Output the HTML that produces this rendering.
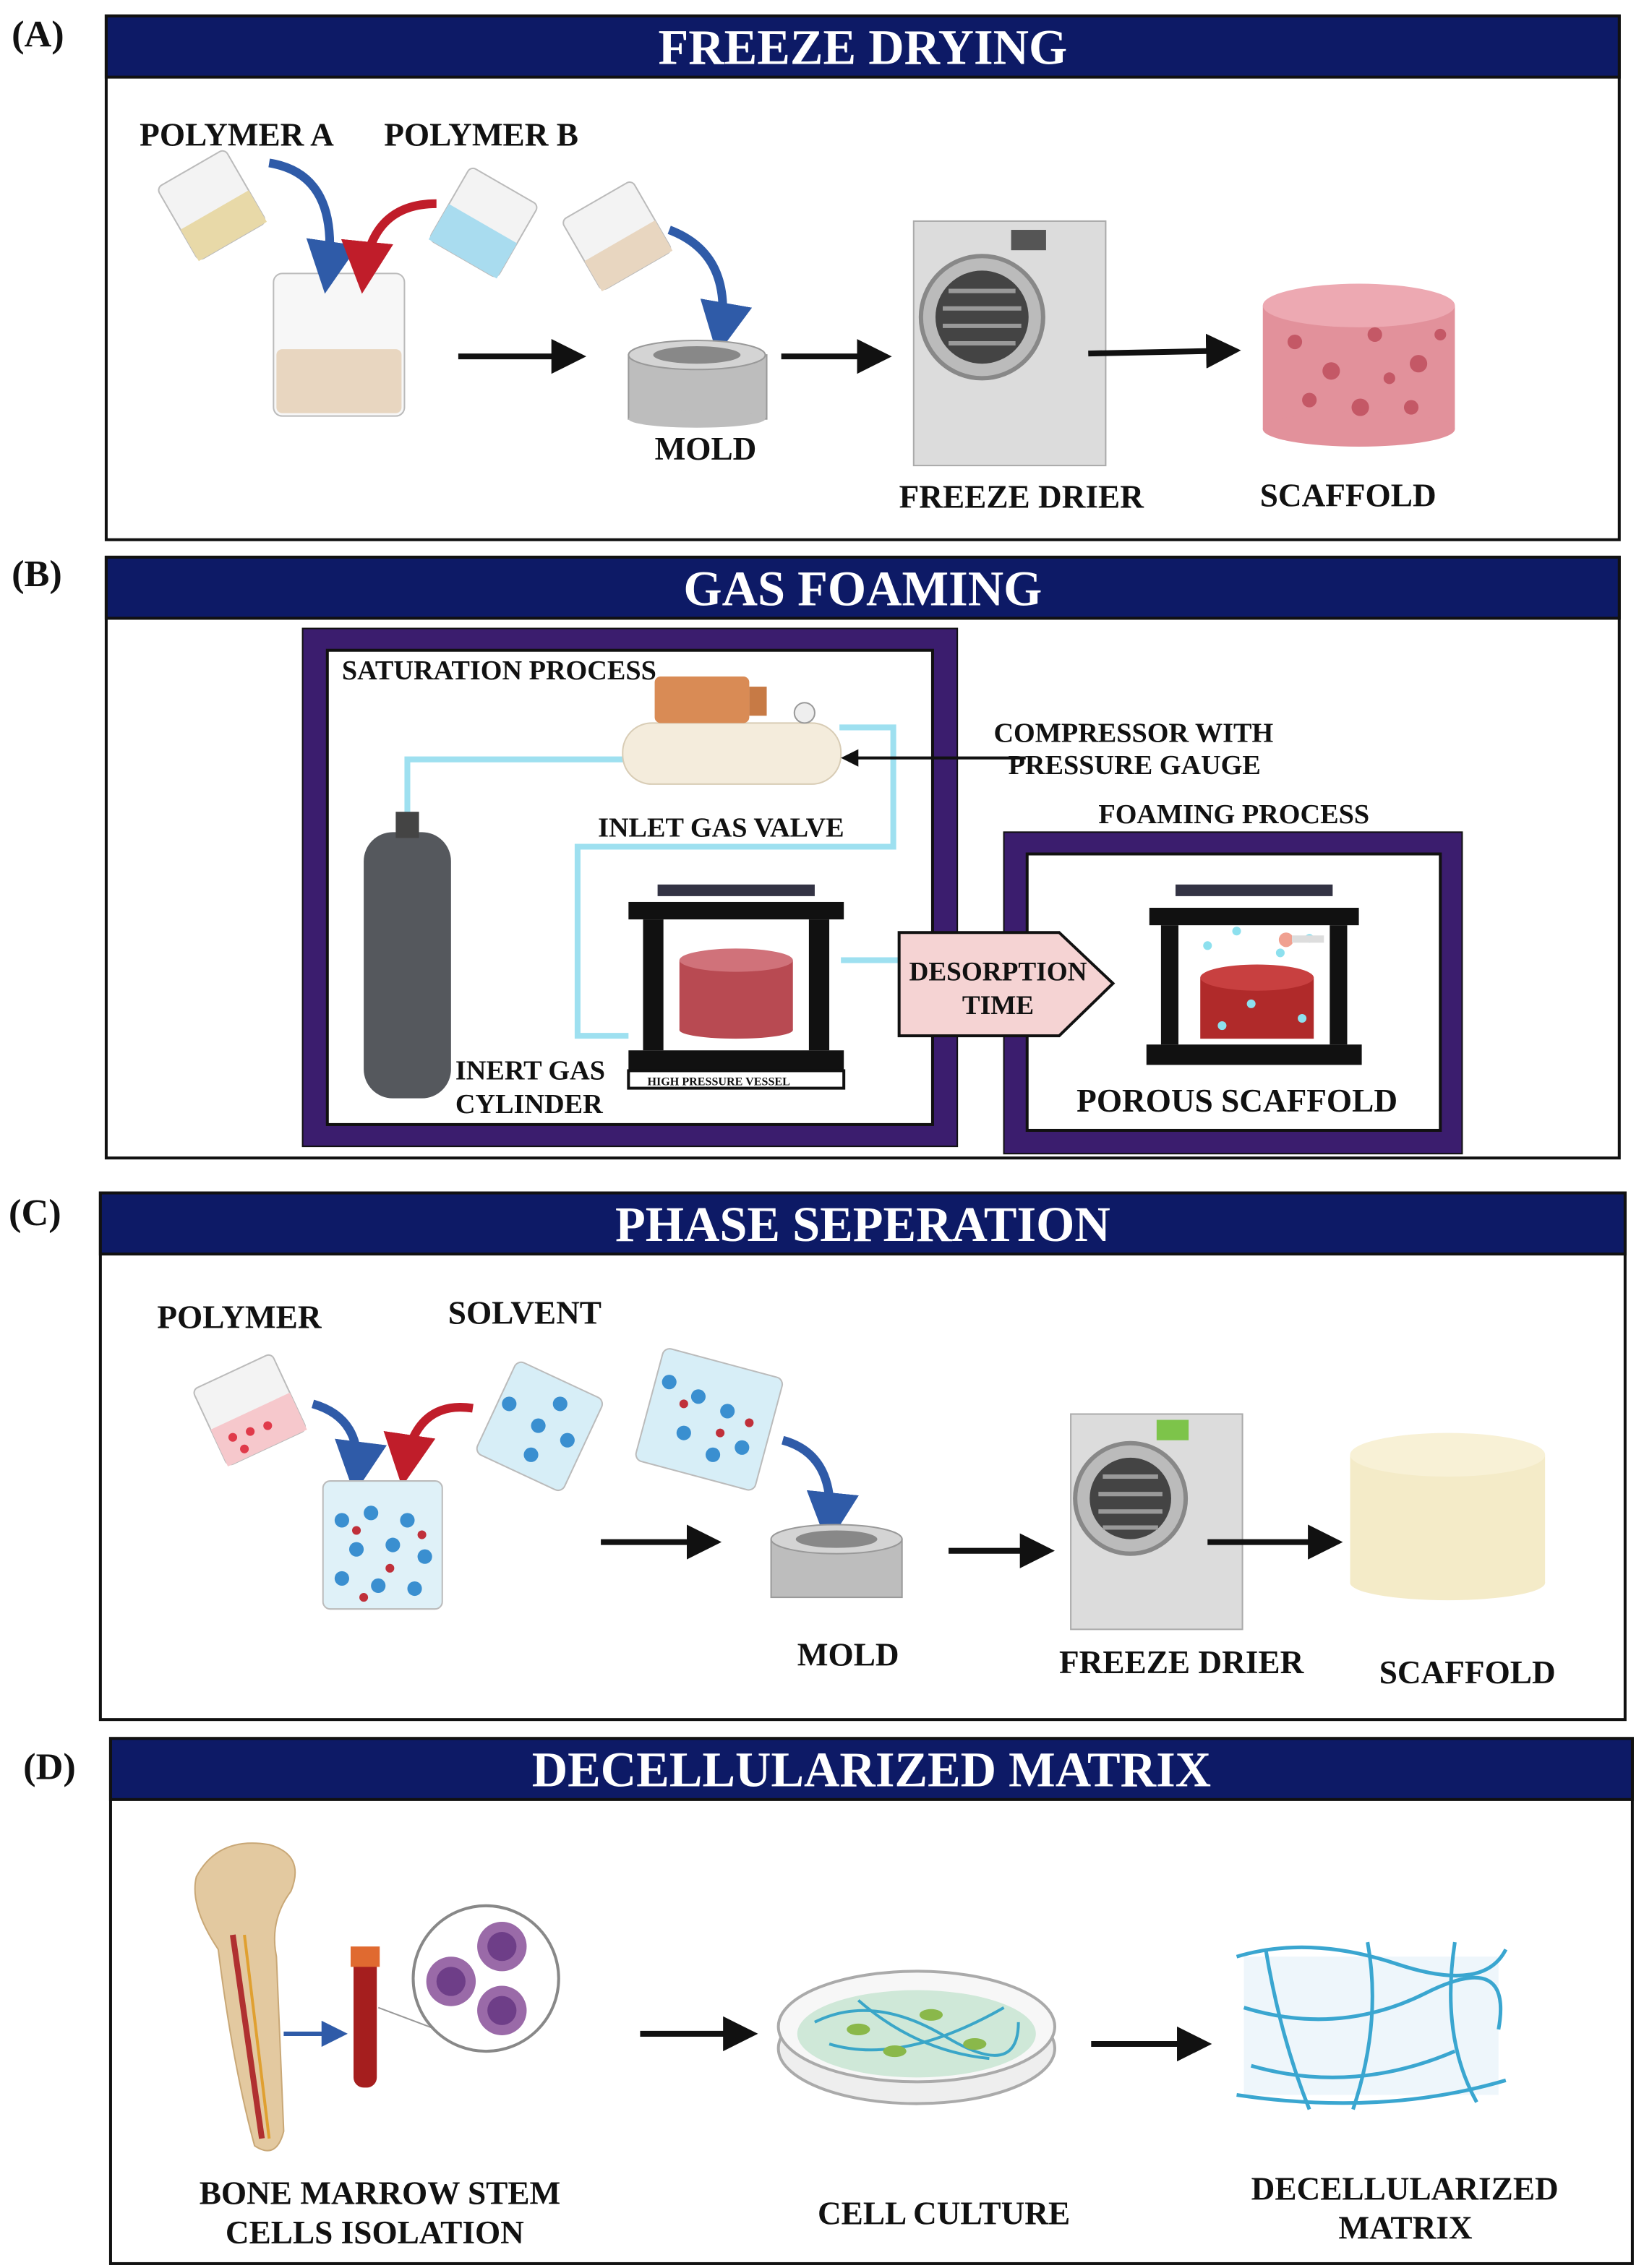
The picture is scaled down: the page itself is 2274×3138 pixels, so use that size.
<!DOCTYPE html>
<html><head><meta charset="utf-8"><style>
html,body{margin:0;padding:0;background:#fff;}
svg{display:block;}
text{font-family:"Liberation Serif",serif;font-weight:bold;fill:#111;}
.h{fill:#fff;font-size:34px;}
</style></head><body>
<svg width="2274" height="3138" viewBox="0 0 1130 1559" preserveAspectRatio="none" xmlns="http://www.w3.org/2000/svg">
<defs>
<marker id="ah" markerWidth="6" markerHeight="6" refX="4" refY="3" orient="auto"><path d="M0,0 L6,3 L0,6 z" fill="#111"/></marker>
<marker id="ab" markerWidth="6" markerHeight="6" refX="4" refY="3" orient="auto"><path d="M0,0 L6,3 L0,6 z" fill="#2f5ba8"/></marker>
<marker id="ar" markerWidth="6" markerHeight="6" refX="4" refY="3" orient="auto"><path d="M0,0 L6,3 L0,6 z" fill="#c01d2a"/></marker>
</defs>

<!-- PANEL A -->
<text x="8" y="32" font-size="26">(A)</text>
<rect x="73" y="11" width="1040" height="360" fill="none" stroke="#111" stroke-width="2"/>
<rect x="73" y="11" width="1040" height="42" fill="#0d1a66" stroke="#111" stroke-width="2"/>
<text class="h" x="593" y="44" text-anchor="middle">FREEZE DRYING</text>
<text x="96" y="100" font-size="22.5">POLYMER A</text>
<text x="264" y="100" font-size="22.5">POLYMER B</text>
<g transform="rotate(-30 145 140)"><rect x="118" y="112" width="54" height="58" rx="4" fill="#f3f3f3" stroke="#bbb"/><rect x="118" y="145" width="54" height="25" fill="#e8d9a8"/></g>
<g transform="rotate(30 333 152)"><rect x="306" y="124" width="54" height="58" rx="4" fill="#f3f3f3" stroke="#bbb"/><rect x="306" y="154" width="54" height="28" fill="#a9dcef"/></g>
<rect x="188" y="188" width="90" height="98" rx="6" fill="#f7f7f7" stroke="#bbb"/>
<rect x="190" y="240" width="86" height="44" rx="4" fill="#e8d6c0"/>
<path d="M185,112 Q235,120 225,190" fill="none" stroke="#2f5ba8" stroke-width="6" marker-end="url(#ab)"/>
<path d="M300,140 Q255,140 250,190" fill="none" stroke="#c01d2a" stroke-width="6" marker-end="url(#ar)"/>
<line x1="315" y1="245" x2="395" y2="245" stroke="#111" stroke-width="4" marker-end="url(#ah)"/>
<g transform="rotate(-30 424 162)"><rect x="396" y="134" width="56" height="56" rx="4" fill="#f3f3f3" stroke="#bbb"/><rect x="396" y="166" width="56" height="24" fill="#e8d6c0"/></g>
<path d="M460,158 Q505,175 495,232" fill="none" stroke="#2f5ba8" stroke-width="6" marker-end="url(#ab)"/>
<rect x="432" y="244" width="95" height="44" fill="#bdbdbd" stroke="#999"/>
<ellipse cx="479" cy="288" rx="47" ry="6" fill="#bdbdbd"/>
<ellipse cx="479" cy="244" rx="47" ry="10" fill="#d4d4d4" stroke="#999"/>
<ellipse cx="479" cy="244" rx="30" ry="6" fill="#888"/>
<text x="450" y="316" font-size="22.5">MOLD</text>
<line x1="537" y1="245" x2="605" y2="245" stroke="#111" stroke-width="4" marker-end="url(#ah)"/>
<rect x="628" y="152" width="132" height="168" fill="#dcdcdc" stroke="#aaa"/>
<rect x="695" y="158" width="24" height="14" fill="#555"/>
<circle cx="675" cy="218" r="42" fill="#bbb" stroke="#888" stroke-width="3"/>
<circle cx="675" cy="218" r="32" fill="#444"/>
<g stroke="#999" stroke-width="3"><line x1="652" y1="200" x2="698" y2="200"/><line x1="648" y1="212" x2="702" y2="212"/><line x1="648" y1="224" x2="702" y2="224"/><line x1="652" y1="236" x2="698" y2="236"/></g>
<line x1="748" y1="243" x2="845" y2="241" stroke="#111" stroke-width="4" marker-end="url(#ah)"/>
<rect x="868" y="210" width="132" height="85" fill="#e2919b"/>
<ellipse cx="934" cy="295" rx="66" ry="12" fill="#e2919b"/>
<ellipse cx="934" cy="210" rx="66" ry="15" fill="#eda9b2"/>
<g fill="#c45866"><circle cx="890" cy="235" r="5"/><circle cx="915" cy="255" r="6"/><circle cx="945" cy="230" r="5"/><circle cx="975" cy="250" r="6"/><circle cx="900" cy="275" r="5"/><circle cx="935" cy="280" r="6"/><circle cx="970" cy="280" r="5"/><circle cx="990" cy="230" r="4"/><circle cx="955" cy="260" r="4"/></g>
<text x="618" y="349" font-size="22.5">FREEZE DRIER</text>
<text x="866" y="348" font-size="22.5">SCAFFOLD</text>

<!-- PANEL B -->
<text x="8" y="403" font-size="26">(B)</text>
<rect x="73" y="383" width="1040" height="413" fill="none" stroke="#111" stroke-width="2"/>
<rect x="73" y="383" width="1040" height="42" fill="#0d1a66" stroke="#111" stroke-width="2"/>
<text class="h" x="593" y="416" text-anchor="middle">GAS FOAMING</text>
<rect x="208" y="432" width="450" height="356" fill="#3b1d6e" stroke="#111"/>
<rect x="225" y="447" width="416" height="326" fill="#fff" stroke="#111" stroke-width="2"/>
<rect x="690" y="572" width="315" height="221" fill="#3b1d6e" stroke="#111"/>
<rect x="706" y="587" width="284" height="190" fill="#fff" stroke="#111" stroke-width="2"/>
<text x="235" y="467" font-size="19">SATURATION PROCESS</text>
<g fill="none" stroke="#9ee0f0" stroke-width="4">
<path d="M280,565 L280,522 L430,522"/>
<path d="M577,500 L614,500 L614,582 L397,582 L397,712 L432,712"/>
<path d="M578,660 L618,660"/>
</g>
<rect x="250" y="572" width="60" height="183" rx="20" fill="#55585d"/>
<rect x="272" y="558" width="16" height="18" fill="#444"/>
<rect x="428" y="497" width="150" height="42" rx="20" fill="#f4ecdc" stroke="#d8ccb5"/>
<rect x="450" y="465" width="65" height="32" rx="4" fill="#d98b55"/>
<rect x="515" y="472" width="12" height="20" fill="#c77a45"/>
<circle cx="553" cy="490" r="7" fill="#eee" stroke="#999"/>
<line x1="705" y1="521" x2="582" y2="521" stroke="#111" stroke-width="2" marker-end="url(#ah)"/>
<text x="683" y="510" font-size="19">COMPRESSOR WITH</text>
<text x="693" y="532" font-size="19">PRESSURE GAUGE</text>
<text x="411" y="575" font-size="19">INLET GAS VALVE</text>
<text x="755" y="566" font-size="19">FOAMING PROCESS</text>
<rect x="452" y="608" width="108" height="8" fill="#334"/>
<rect x="432" y="620" width="148" height="12" fill="#111"/>
<rect x="442" y="632" width="14" height="90" fill="#111"/>
<rect x="556" y="632" width="14" height="90" fill="#111"/>
<rect x="432" y="722" width="148" height="14" fill="#111"/>
<rect x="432" y="736" width="148" height="12" fill="#fff" stroke="#111" stroke-width="2"/>
<text x="445" y="746" font-size="8">HIGH PRESSURE VESSEL</text>
<rect x="467" y="660" width="78" height="48" fill="#b84a52"/>
<ellipse cx="506" cy="708" rx="39" ry="6" fill="#b84a52"/>
<ellipse cx="506" cy="660" rx="39" ry="8" fill="#d0727a"/>
<text x="313" y="742" font-size="19">INERT GAS</text>
<text x="313" y="765" font-size="19">CYLINDER</text>
<path d="M618,641 L728,641 L765,676 L728,712 L618,712 z" fill="#f5d3d3" stroke="#111" stroke-width="2"/>
<text x="686" y="674" font-size="18.5" text-anchor="middle">DESORPTION</text>
<text x="686" y="697" font-size="18.5" text-anchor="middle">TIME</text>
<rect x="808" y="608" width="108" height="8" fill="#334"/>
<rect x="790" y="624" width="144" height="12" fill="#111"/>
<rect x="798" y="636" width="12" height="82" fill="#111"/>
<rect x="914" y="636" width="12" height="82" fill="#111"/>
<rect x="788" y="718" width="148" height="14" fill="#111"/>
<rect x="825" y="672" width="78" height="42" fill="#b02a2a"/>
<ellipse cx="864" cy="672" rx="39" ry="9" fill="#c84040"/>
<g fill="#8de0ee"><circle cx="830" cy="650" r="3"/><circle cx="850" cy="640" r="3"/><circle cx="880" cy="655" r="3"/><circle cx="900" cy="645" r="3"/><circle cx="860" cy="690" r="3"/><circle cx="840" cy="705" r="3"/><circle cx="895" cy="700" r="3"/></g>
<circle cx="884" cy="646" r="5" fill="#f0a090"/><rect x="888" y="643" width="22" height="5" fill="#ddd"/>
<text x="740" y="764" font-size="22.5">POROUS SCAFFOLD</text>

<!-- PANEL C -->
<text x="6" y="842" font-size="26">(C)</text>
<rect x="69" y="820" width="1048" height="362" fill="none" stroke="#111" stroke-width="2"/>
<rect x="69" y="820" width="1048" height="42" fill="#0d1a66" stroke="#111" stroke-width="2"/>
<text class="h" x="593" y="853" text-anchor="middle">PHASE SEPERATION</text>
<text x="108" y="913" font-size="22.5">POLYMER</text>
<text x="308" y="910" font-size="22.5">SOLVENT</text>
<g transform="rotate(-25 172 970)"><rect x="142" y="940" width="60" height="58" rx="4" fill="#f3f3f3" stroke="#bbb"/><rect x="142" y="970" width="60" height="28" fill="#f6c8cc"/></g>
<g fill="#e03a4a"><circle cx="160" cy="988" r="3"/><circle cx="172" cy="984" r="3"/><circle cx="184" cy="980" r="3"/><circle cx="168" cy="996" r="3"/></g>
<path d="M215,965 Q250,975 245,1015" fill="none" stroke="#2f5ba8" stroke-width="6" marker-end="url(#ab)"/>
<path d="M325,968 Q285,962 278,1010" fill="none" stroke="#c01d2a" stroke-width="6" marker-end="url(#ar)"/>
<g transform="rotate(25 370 980)"><rect x="338" y="945" width="66" height="70" rx="5" fill="#d7eef7" stroke="#bbb"/></g>
<g transform="rotate(15 485 975)"><rect x="445" y="935" width="85" height="80" rx="5" fill="#d7eef7" stroke="#bbb"/></g>
<rect x="222" y="1018" width="82" height="88" rx="5" fill="#dff1f8" stroke="#bbb"/>
<g fill="#3a8fd0"><circle cx="235" cy="1045" r="5"/><circle cx="255" cy="1040" r="5"/><circle cx="280" cy="1045" r="5"/><circle cx="245" cy="1065" r="5"/><circle cx="270" cy="1062" r="5"/><circle cx="292" cy="1070" r="5"/><circle cx="235" cy="1085" r="5"/><circle cx="260" cy="1090" r="5"/><circle cx="285" cy="1092" r="5"/>
<circle cx="350" cy="965" r="5"/><circle cx="370" cy="980" r="5"/><circle cx="390" cy="990" r="5"/><circle cx="365" cy="1000" r="5"/><circle cx="385" cy="965" r="5"/>
<circle cx="460" cy="950" r="5"/><circle cx="480" cy="960" r="5"/><circle cx="500" cy="970" r="5"/><circle cx="470" cy="985" r="5"/><circle cx="510" cy="995" r="5"/><circle cx="490" cy="1000" r="5"/></g>
<g fill="#c0303a"><circle cx="245" cy="1052" r="3"/><circle cx="268" cy="1078" r="3"/><circle cx="290" cy="1055" r="3"/><circle cx="250" cy="1098" r="3"/><circle cx="470" cy="965" r="3"/><circle cx="495" cy="985" r="3"/><circle cx="515" cy="978" r="3"/></g>
<path d="M538,990 Q575,1000 570,1050" fill="none" stroke="#2f5ba8" stroke-width="6" marker-end="url(#ab)"/>
<line x1="413" y1="1060" x2="488" y2="1060" stroke="#111" stroke-width="4" marker-end="url(#ah)"/>
<rect x="530" y="1058" width="90" height="40" fill="#bdbdbd" stroke="#999"/>
<ellipse cx="575" cy="1058" rx="45" ry="10" fill="#d4d4d4" stroke="#999"/>
<ellipse cx="575" cy="1058" rx="28" ry="6" fill="#888"/>
<text x="548" y="1145" font-size="22.5">MOLD</text>
<line x1="652" y1="1066" x2="717" y2="1066" stroke="#111" stroke-width="4" marker-end="url(#ah)"/>
<rect x="736" y="972" width="118" height="148" fill="#dcdcdc" stroke="#aaa"/>
<rect x="795" y="976" width="22" height="14" fill="#7dc44a"/>
<circle cx="777" cy="1030" r="38" fill="#bbb" stroke="#888" stroke-width="3"/>
<circle cx="777" cy="1030" r="28" fill="#444"/>
<g stroke="#999" stroke-width="3"><line x1="758" y1="1015" x2="796" y2="1015"/><line x1="755" y1="1027" x2="799" y2="1027"/><line x1="755" y1="1039" x2="799" y2="1039"/><line x1="758" y1="1050" x2="796" y2="1050"/></g>
<line x1="830" y1="1060" x2="915" y2="1060" stroke="#111" stroke-width="4" marker-end="url(#ah)"/>
<rect x="928" y="1000" width="134" height="88" fill="#f4ebc8"/>
<ellipse cx="995" cy="1088" rx="67" ry="12" fill="#f4ebc8"/>
<ellipse cx="995" cy="1000" rx="67" ry="15" fill="#f8f1d6"/>
<text x="728" y="1150" font-size="22.5">FREEZE DRIER</text>
<text x="948" y="1157" font-size="22.5">SCAFFOLD</text>

<!-- PANEL D -->
<text x="16" y="1223" font-size="26">(D)</text>
<rect x="76" y="1195" width="1046" height="361" fill="none" stroke="#111" stroke-width="2"/>
<rect x="76" y="1195" width="1046" height="42" fill="#0d1a66" stroke="#111" stroke-width="2"/>
<text class="h" x="599" y="1228" text-anchor="middle">DECELLULARIZED MATRIX</text>
<path d="M135,1290 Q150,1262 185,1268 Q210,1275 200,1300 Q185,1320 190,1345 L195,1465 Q190,1485 175,1475 Q160,1420 150,1340 Q130,1310 135,1290 z" fill="#e3c9a0" stroke="#c9a877"/>
<line x1="160" y1="1330" x2="180" y2="1470" stroke="#b03030" stroke-width="4"/>
<line x1="168" y1="1330" x2="185" y2="1470" stroke="#e0a030" stroke-width="2"/>
<line x1="195" y1="1398" x2="233" y2="1398" stroke="#2f5ba8" stroke-width="3" marker-end="url(#ab)"/>
<rect x="243" y="1345" width="16" height="90" rx="7" fill="#a51e1e"/>
<rect x="241" y="1338" width="20" height="14" fill="#e06a30"/>
<line x1="260" y1="1380" x2="300" y2="1395" stroke="#999"/>
<circle cx="334" cy="1360" r="50" fill="#fff" stroke="#888" stroke-width="2"/>
<circle cx="345" cy="1338" r="17" fill="#9a6aa8"/><circle cx="345" cy="1338" r="10" fill="#6e3e88"/>
<circle cx="310" cy="1362" r="17" fill="#9a6aa8"/><circle cx="310" cy="1362" r="10" fill="#6e3e88"/>
<circle cx="345" cy="1382" r="17" fill="#9a6aa8"/><circle cx="345" cy="1382" r="10" fill="#6e3e88"/>
<line x1="440" y1="1398" x2="513" y2="1398" stroke="#111" stroke-width="4" marker-end="url(#ah)"/>
<ellipse cx="630" cy="1408" rx="95" ry="38" fill="#eee" stroke="#aaa" stroke-width="2"/>
<ellipse cx="630" cy="1393" rx="95" ry="38" fill="#f7f7f7" stroke="#aaa" stroke-width="2"/>
<ellipse cx="630" cy="1398" rx="82" ry="30" fill="#cfe8d8"/>
<g stroke="#3aa6c8" stroke-width="2" fill="none"><path d="M560,1390 Q600,1370 650,1400 T700,1390"/><path d="M570,1405 Q620,1420 690,1380"/><path d="M590,1375 Q630,1410 680,1415"/></g>
<g fill="#8ab84a"><ellipse cx="590" cy="1395" rx="8" ry="4"/><ellipse cx="640" cy="1385" rx="8" ry="4"/><ellipse cx="670" cy="1405" rx="8" ry="4"/><ellipse cx="615" cy="1410" rx="8" ry="4"/></g>
<line x1="750" y1="1405" x2="825" y2="1405" stroke="#111" stroke-width="4" marker-end="url(#ah)"/>
<rect x="855" y="1345" width="175" height="95" fill="#eef6fb"/>
<g stroke="#3aa6d0" stroke-width="2.5" fill="none">
<path d="M850,1345 Q900,1330 960,1350 T1035,1340"/><path d="M855,1380 Q920,1400 980,1370 T1030,1395"/><path d="M860,1420 Q930,1440 1000,1410"/><path d="M870,1340 Q880,1400 900,1450"/><path d="M940,1335 Q950,1390 930,1450"/><path d="M1000,1335 Q990,1400 1015,1445"/><path d="M850,1440 Q950,1455 1035,1430"/></g>
<text x="137" y="1515" font-size="22.5">BONE MARROW STEM</text>
<text x="155" y="1542" font-size="22.5">CELLS  ISOLATION</text>
<text x="562" y="1529" font-size="22.5">CELL CULTURE</text>
<text x="860" y="1512" font-size="22.5">DECELLULARIZED</text>
<text x="920" y="1539" font-size="22.5">MATRIX</text>
</svg>
</body></html>
